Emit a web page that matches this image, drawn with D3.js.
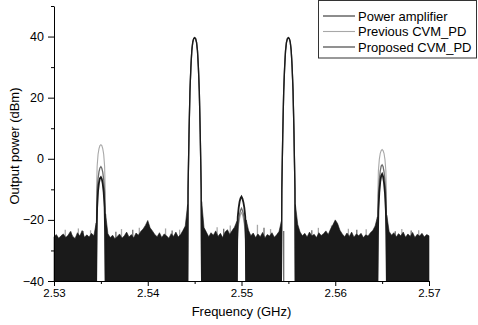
<!DOCTYPE html>
<html>
<head>
<meta charset="utf-8">
<script src="https://cdn.jsdelivr.net/npm/d3@7"></script>
<style>
  body { margin: 0; background: #fff; }
  svg { display: block; font-family: "Liberation Sans", Arial, sans-serif; }
</style>
</head>
<body>
<svg id="chart" width="478" height="325"></svg>
<script>
// noise floor of the PA spectrum, one value every 0.25 MHz from 2.53 GHz (null = inside a carrier / IMD gap)
const freqStart = 2.53;
const freqStep = 0.00025;
const paFloor = [
  -25.5, -24.8, -26.0, -25.2, -24.6, -25.8, -25.0, -23.8, -25.4, -26.1,
  -24.2, -25.3, -23.5, -25.7, -24.9, -25.6, -24.4, -25.2, -21.0, null,
  null, null, -18.0, -24.5, -25.8, -25.0, -26.2, -25.4, -24.6, -26.0,
  -25.2, -24.0, -25.6, -24.8, -25.9, -24.3, -25.0, -23.8, -23.0, -21.8,
  -20.2, -22.6, -23.6, -24.8, -25.5, -24.2, -25.8, -24.6, -25.2, -26.0,
  -24.5, -25.4, -24.0, -25.6, -24.8, -23.5, -22.0, -15.0, null, null,
  null, null, null, -14.0, -22.5, -24.0, -25.5, -24.2, -25.0, -23.6,
  -25.4, -24.4, -25.8, -24.0, -23.2, -24.8, -23.5, -22.4, -20.5, null,
  null, null, -20.0, -23.4, -25.2, -24.3, -25.8, -24.6, -25.5, -24.1,
  -25.9, -24.8, -25.3, -24.2, -25.7, -24.9, -23.8, -20.5, null, null,
  null, null, null, -15.0, -21.5, -24.0, -25.2, -24.4, -25.6, -24.0,
  -25.3, -24.7, -25.8, -24.2, -25.1, -24.5, -23.6, -24.8, -23.0, -21.6,
  -20.0, -21.2, -23.4, -24.6, -25.5, -24.3, -25.4, -24.0, -25.7, -24.6,
  -25.2, -24.4, -25.8, -24.9, -25.3, -24.2, -23.5, -22.0, -19.0, null,
  null, null, -18.5, -23.8, -25.0, -24.2, -25.6, -24.5, -25.2, -24.0,
  -25.7, -24.6, -25.4, -24.1, -25.8, -24.7, -25.3, -24.4, -25.6, -24.8,
  -25.2
];

// noise spikes of the two predistorted spectra that rise above the PA floor: [GHz, dBm]
const prevSpikes = [
  [2.5312, -23.2], [2.5326, -22.8], [2.5339, -23.4], [2.5372, -23.0], [2.5391, -22.6],
  [2.5419, -22.8], [2.5434, -23.2], [2.5474, -22.4], [2.5488, -21.8], [2.5517, -21.6],
  [2.5531, -23.0], [2.5582, -22.6], [2.5596, -21.8], [2.5614, -22.9], [2.5633, -23.1],
  [2.5671, -23.0], [2.5689, -23.4]
];
const propSpikes = [
  [2.5318, -23.8], [2.5331, -23.6], [2.5366, -23.9], [2.5384, -23.2], [2.5426, -23.5],
  [2.5481, -22.9], [2.5495, -21.5], [2.5524, -22.6], [2.5545, -23.6], [2.5575, -23.4],
  [2.5623, -23.2], [2.5664, -23.7], [2.5681, -23.5]
];

// side-band and IMD peaks at 2.535, 2.55, 2.565 GHz: levels at offsets from centre (GHz)
const peakCenters = [2.535, 2.55, 2.565];
const peakOffsets = [-0.0005, -0.00045, -0.0004, -0.0003, -0.0002, -0.0001, 0,
                     0.0001, 0.0002, 0.0003, 0.0004, 0.00045, 0.0005];
const prevPeaks = [
  [-40, -9, -2.5, 1.5, 3.3, 4.3, 4.6, 4.3, 3.3, 1.5, -2.5, -9, -40],
  [-40, -28, -24.5, -21.5, -19.5, -18.2, -17.6, -18.3, -19.5, -21.5, -24.5, -28, -40],
  [-40, -11, -4.0, -0.2, 1.8, 2.7, 3.0, 2.7, 1.8, -0.2, -4.0, -11, -40]
];
const propPeaks = [
  [-40, -20, -11, -6.5, -4.2, -3.0, -2.6, -3.1, -4.4, -6.8, -11, -20, -40],
  [-40, -27, -23, -20, -18, -16.8, -16.2, -16.9, -18, -20, -23, -27, -40],
  [-40, -21, -12, -7, -4, -2.4, -2.0, -2.5, -4.2, -7.2, -12, -21, -40]
];
const paPeaks = [
  [-40, -24, -16, -10.5, -7.8, -6.4, -6.0, -6.6, -8.2, -11, -16, -24, -40],
  [-40, -24, -19, -16, -14, -12.9, -12.4, -13, -14.2, -16, -19, -24, -40],
  [-40, -25, -17, -11, -7.5, -5.6, -5.0, -5.8, -7.8, -11.2, -17, -25, -40]
];

// the two carriers, identical for all three spectra
const carrierCenters = [2.545, 2.555];
const carrierOffsets = [-0.00075, -0.0007, -0.0006, -0.0005, -0.0004, -0.0003, -0.0002, -0.0001, 0,
                        0.0001, 0.0002, 0.0003, 0.0004, 0.0005, 0.0006, 0.0007, 0.00075];
const carrierLevels = [-40, -10, 8, 22, 30, 35.5, 38.2, 39.3, 39.6, 39.3, 38.2, 35.5, 30, 22, 8, -10, -40];

const xTicks = [2.53, 2.54, 2.55, 2.56, 2.57];
const xMinorTicks = [2.535, 2.545, 2.555, 2.565];
const yTicks = [-40, -20, 0, 20, 40];
const yMinorTicks = [-30, -10, 10, 30, 50];
const seriesNames = ['Power amplifier', 'Previous CVM_PD', 'Proposed CVM_PD'];
const seriesColors = ['#1a1a1a', '#a8a8a8', '#6c6c6c'];

const svg = d3.select('#chart');
const x = d3.scaleLinear().domain([2.53, 2.57]).range([54, 429]);
const y = d3.scaleLinear().domain([-40, 50]).range([281, 6]);

const peakLine = center => d3.line()
  .x((d, i) => x(center + peakOffsets[i]))
  .y(d => y(d));

const carrierLine = center => d3.line()
  .x((d, i) => x(center + carrierOffsets[i]))
  .y(d => y(d));

function drawSpectrum(peaks, spikes, color, width) {
  const g = svg.append('g');
  g.selectAll('line')
    .data(spikes)
    .enter()
    .append('line')
    .attr('x1', d => x(d[0]))
    .attr('x2', d => x(d[0]))
    .attr('y1', y(-40))
    .attr('y2', d => y(d[1]))
    .attr('stroke', color)
    .attr('stroke-width', 1.3);
  peaks.forEach((levels, k) => {
    g.append('path')
      .attr('d', peakLine(peakCenters[k])(levels))
      .attr('fill', 'none')
      .attr('stroke', color)
      .attr('stroke-width', width);
  });
  carrierCenters.forEach(c => {
    g.append('path')
      .attr('d', carrierLine(c)(carrierLevels))
      .attr('fill', 'none')
      .attr('stroke', color)
      .attr('stroke-width', 1.3);
  });
}

drawSpectrum(prevPeaks, prevSpikes, seriesColors[1], 1.1);
drawSpectrum(propPeaks, propSpikes, seriesColors[2], 1.3);

// PA noise floor (dense spectrum renders as a solid block)
const floorArea = d3.area()
  .defined(d => d != null)
  .x((d, i) => x(freqStart + i * freqStep))
  .y0(y(-40))
  .y1(d => y(d));

svg.append('path')
  .datum(paFloor)
  .attr('d', floorArea)
  .attr('fill', seriesColors[0])
  .attr('stroke', seriesColors[0])
  .attr('stroke-width', 0.6);

drawSpectrum(paPeaks, [], seriesColors[0], 1.8);

// axes
const xAxis = svg.append('g')
  .attr('transform', 'translate(0,' + y(-40) + ')')
  .call(d3.axisBottom(x).tickValues(xTicks).tickFormat(d3.format('.2f')).tickSize(5).tickSizeOuter(0).tickPadding(3));
xAxis.selectAll('text').style('font-size', '11.5px').attr('fill', '#000');

svg.append('g')
  .attr('transform', 'translate(0,' + y(-40) + ')')
  .call(d3.axisBottom(x).tickValues(xMinorTicks).tickFormat('').tickSize(3).tickSizeOuter(0))
  .select('.domain').remove();

const yAxis = svg.append('g')
  .attr('transform', 'translate(' + x(2.53) + ',0)')
  .call(d3.axisLeft(y).tickValues(yTicks).tickSize(6).tickSizeOuter(0).tickPadding(4));
yAxis.selectAll('text').style('font-size', '12.5px').attr('fill', '#000');

svg.append('g')
  .attr('transform', 'translate(' + x(2.53) + ',0)')
  .call(d3.axisLeft(y).tickValues(yMinorTicks).tickFormat('').tickSize(3).tickSizeOuter(0))
  .select('.domain').remove();

svg.selectAll('.domain, .tick line').attr('stroke', '#000');

svg.append('text')
  .attr('x', 241.5)
  .attr('y', 315.5)
  .attr('text-anchor', 'middle')
  .style('font-size', '13px')
  .text('Frequency (GHz)');

svg.append('text')
  .attr('transform', 'translate(18.5,146)rotate(-90)')
  .attr('text-anchor', 'middle')
  .style('font-size', '13px')
  .text('Output power (dBm)');

// legend
const legend = svg.append('g');
legend.append('rect')
  .attr('x', 318.5)
  .attr('y', 0.5)
  .attr('width', 158)
  .attr('height', 57.5)
  .attr('fill', '#fff')
  .attr('stroke', '#333')
  .attr('stroke-width', 1);

const rowY = [16, 31.5, 47];
const rowWidth = [1, 1.1, 1.5];
seriesNames.forEach((name, i) => {
  legend.append('line')
    .attr('x1', 323)
    .attr('x2', 355)
    .attr('y1', rowY[i])
    .attr('y2', rowY[i])
    .attr('stroke', seriesColors[i])
    .attr('stroke-width', rowWidth[i]);
  legend.append('text')
    .attr('x', 358)
    .attr('y', rowY[i])
    .attr('dy', '0.36em')
    .style('font-size', '13px')
    .text(name);
});
</script>
</body>
</html>
